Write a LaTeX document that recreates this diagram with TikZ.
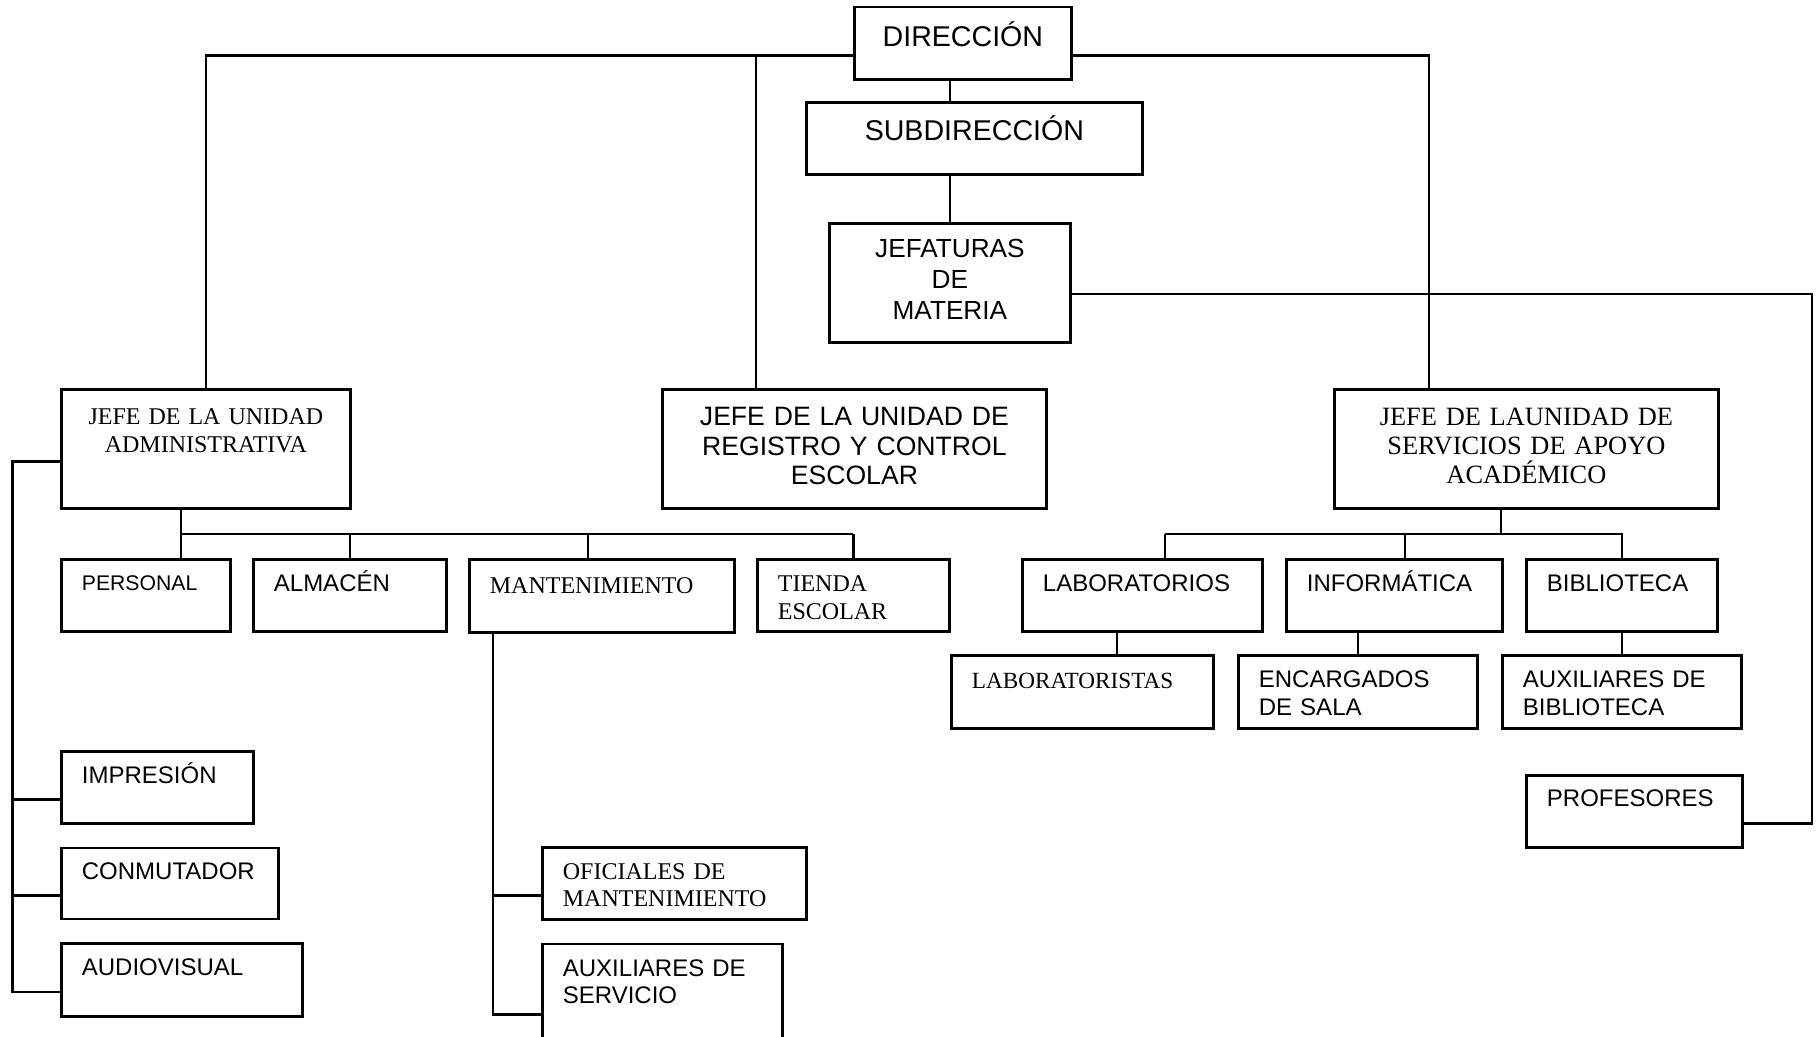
\documentclass[tikz,border=0pt]{standalone}
\usepackage{fontspec}
\setmainfont{Liberation Sans}
\newfontfamily\serifa{Liberation Serif}
\usetikzlibrary{calc}

\tikzset{
  unit/.style={draw, line width=1.4pt, anchor=north west, inner ysep=0pt, inner xsep=10.25pt},
  wh/.style n args={3}{text width=#1pt, text height=#2pt, text depth=#3pt},
  sans/.style={font=\fontsize{12}{14}\selectfont, align=left},
  serif/.style={font=\serifa\fontsize{12}{13.7}\selectfont, align=left},
  link/.style={line width=1.25pt},
}

\begin{document}
\begin{tikzpicture}[x=0.5pt, y=-0.5pt]
  \useasboundingbox (0,0) rectangle (1816,1037);
  \clip (0,0) rectangle (1816,1037);

  % top of the chart
  \node[unit, wh={88}{19.5}{16.8}, align=center, font=\fontsize{14.3}{16}\selectfont] (dir) at (853,5.7) {DIRECCIÓN};
  \node[unit, wh={147.5}{19}{17}, align=center, font=\fontsize{14.3}{16}\selectfont] (sub) at (805,101.5) {SUBDIRECCIÓN};
  \node[unit, wh={100}{17}{42.5}, align=center, font=\fontsize{13.1}{15.6}\selectfont] (jef) at (828,222) {JEFATURAS\\DE\\MATERIA};

  % unit heads
  \node[unit, serif, wh={124}{17.5}{42}, align=center] (adm) at (60,388.5) {JEFE DE LA UNIDAD\\ADMINISTRATIVA};
  \node[unit, wh={171.5}{18}{41.5}, align=center, font=\fontsize{13.3}{14.7}\selectfont] (reg) at (661,388.5) {JEFE DE LA UNIDAD DE\\REGISTRO Y CONTROL\\ESCOLAR};
  \node[unit, wh={171.5}{18}{41.5}, align=center, font=\serifa\fontsize{13.2}{14.4}\selectfont] (ser) at (1333,388.5) {JEFE DE LAUNIDAD DE\\SERVICIOS DE APOYO\\ACADÉMICO};

  % administrative areas
  \node[unit, wh={64}{15.5}{20.5}, align=left, font=\fontsize{10.6}{12}\selectfont] (per) at (60,558) {PERSONAL};
  \node[unit, sans, wh={76}{16}{20}] (alm) at (252,558) {ALMACÉN};
  \node[unit, serif, wh={112}{17}{19.5}] (man) at (468,558) {MANTENIMIENTO};
  \node[unit, serif, wh={75.5}{16.25}{19.75}] (tie) at (756,558) {TIENDA\\ESCOLAR};
  \node[unit, sans, wh={75.5}{16.25}{19.75}] (imp) at (60,750) {IMPRESIÓN};
  \node[unit, sans, wh={88}{16}{19.5}] (con) at (60,846.5) {CONMUTADOR};
  \node[unit, sans, wh={100}{16}{20.5}] (aud) at (60,942) {AUDIOVISUAL};
  \node[unit, serif, wh={111.5}{16}{20}, font=\serifa\fontsize{12}{13.35}\selectfont] (ofi) at (541,846) {OFICIALES DE\\MANTENIMIENTO};
  \node[unit, sans, wh={99.5}{16.5}{42}, font=\fontsize{12}{13.35}\selectfont] (axs) at (541,942.5) {AUXILIARES DE\\SERVICIO};

  % academic support areas
  \node[unit, sans, wh={99.5}{16}{20}] (lab) at (1021,558) {LABORATORIOS};
  \node[unit, sans, wh={87.5}{16}{20}] (inf) at (1285,558) {INFORMÁTICA};
  \node[unit, sans, wh={75}{16}{20}] (bib) at (1525,558) {BIBLIOTECA};
  \node[unit, serif, wh={110.5}{16.5}{20}, font=\serifa\fontsize{11.6}{13.7}\selectfont] (lbs) at (950,654) {LABORATORISTAS};
  \node[unit, sans, wh={99}{16}{20.5}] (enc) at (1237,654) {ENCARGADOS\\DE SALA};
  \node[unit, sans, wh={99}{16}{20.5}] (axb) at (1501,654) {AUXILIARES DE\\BIBLIOTECA};
  \node[unit, sans, wh={87.5}{15.75}{20.25}] (pro) at (1525,774) {PROFESORES};

  % tap points
  \coordinate (regtap) at (756,0);
  \coordinate (sertap) at (1429,0);
  \coordinate (rim) at (1812,500);
  \coordinate (lspine) at (12.7,0);
  \coordinate (mspine) at (493,0);
  \coordinate (abus) at (181,534);
  \coordinate (mantap) at (588,0);
  \coordinate (sbus) at (1165,534);
  \coordinate (sdrop) at (1501,0);
  \coordinate (inftap) at (1405,0);
  \coordinate (lbstap) at (1117,0);
  \foreach \n in {dir,jef,adm,imp,con,aud,ofi,axs} {
    \coordinate (\n-w) at ([yshift=-6pt]\n.west);
    \coordinate (\n-e) at ([yshift=-6pt]\n.east);
  }
  \coordinate (pro-e) at ([yshift=-6pt]pro.east);

  % direction bar
  \draw[link] (dir-w) -| (adm.north);
  \draw[link] (regtap |- reg.north) |- (dir-w);
  \draw[link] (dir-e) -| (sertap |- ser.north);
  \draw[link] (dir.south -| jef.north) -- (sub.north -| jef.north);
  \draw[link] (sub.south -| jef.north) -- (jef.north);
  \draw[link] ([yshift=0.5pt]jef-e) -| (rim) |- (pro-e);

  % administrative unit
  \draw[link] (adm-w) -| (lspine |- aud-w) -- (aud-w);
  \foreach \n in {imp,con} \draw[link] (lspine |- \n-w) -- (\n-w);
  \draw[link] (abus |- adm.south) -- (abus) -- (abus -| tie.north);
  \draw[link] (abus) -- (abus |- per.north);
  \foreach \n in {alm,tie} \draw[link] (abus -| \n.north) -- (\n.north);
  \draw[link] (abus -| mantap) -- (mantap |- man.north);

  % maintenance
  \draw[link] (mspine |- man.south) |- (axs-w);
  \draw[link] (mspine |- ofi-w) -- (ofi-w);

  % academic support
  \draw[link] (sdrop |- ser.south) -- (sdrop |- sbus);
  \draw[link] (sbus) -- (sbus -| bib.north) -- (bib.north);
  \draw[link] (sbus) -- (sbus |- lab.north);
  \draw[link] (sbus -| inftap) -- (inftap |- inf.north);
  \draw[link] (lbstap |- lab.south) -- (lbstap |- lbs.north);
  \draw[link] (enc.north |- inf.south) -- (enc.north);
  \draw[link] (bib.south) -- (axb.north);
\end{tikzpicture}
\end{document}
